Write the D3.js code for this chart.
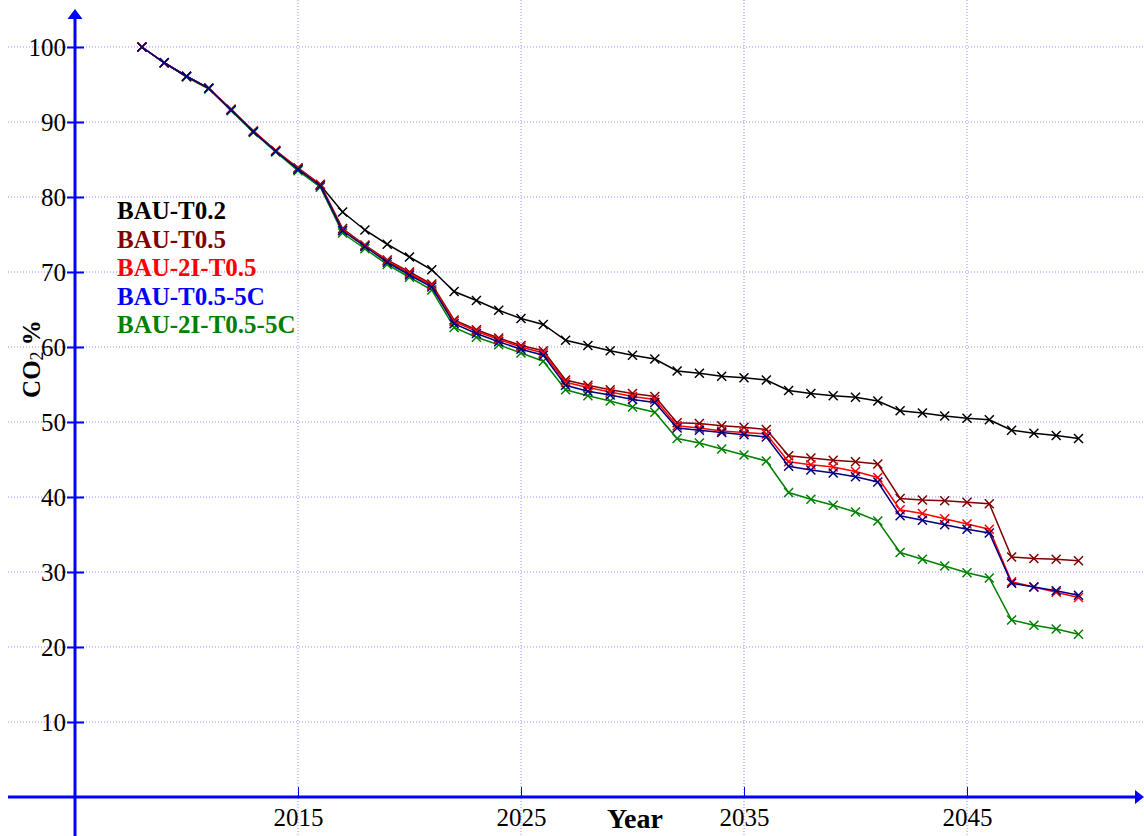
<!DOCTYPE html>
<html>
<head>
<meta charset="utf-8">
<script src="https://cdn.jsdelivr.net/npm/d3@7"></script>
<style>
  body { margin: 0; background: #fff; }
  svg { display: block; font-family: "Liberation Serif", "Times New Roman", serif; }
</style>
</head>
<body>
<div id="chart"></div>
<script>
// years 2008..2050
const years = d3.range(2008, 2051);
const yearTicks = [2015, 2025, 2035, 2045];
const pctTicks = [10, 20, 30, 40, 50, 60, 70, 80, 90, 100];

const bauT02 = [100, 97.9, 96.1, 94.5, 91.6, 88.7, 86.1, 83.7, 81.6,
  78.0, 75.6, 73.7, 72.0, 70.3,
  67.4, 66.2, 64.9, 63.8, 63.0,
  60.9, 60.2, 59.5, 58.9, 58.4,
  56.8, 56.5, 56.1, 55.9, 55.6,
  54.2, 53.8, 53.5, 53.3, 52.8,
  51.5, 51.2, 50.8, 50.5, 50.3,
  48.9, 48.5, 48.2, 47.8];

const bauT05 = [100, 97.9, 96.1, 94.5, 91.7, 88.8, 86.2, 83.9, 81.7,
  75.8, 73.6, 71.6, 70.0, 68.4,
  63.6, 62.3, 61.2, 60.2, 59.5,
  55.6, 54.9, 54.3, 53.8, 53.4,
  49.9, 49.8, 49.5, 49.3, 49.0,
  45.5, 45.2, 44.9, 44.7, 44.4,
  39.8, 39.6, 39.5, 39.3, 39.1,
  32.0, 31.8, 31.7, 31.5];

const bau2IT05 = [100, 97.9, 96.1, 94.5, 91.7, 88.8, 86.2, 83.8, 81.6,
  75.6, 73.5, 71.5, 69.8, 68.2,
  63.4, 62.1, 61.0, 60.0, 59.2,
  55.3, 54.6, 54.0, 53.4, 53.0,
  49.5, 49.2, 48.8, 48.6, 48.4,
  44.7, 44.3, 44.0, 43.4, 42.6,
  38.3, 37.8, 37.1, 36.4, 35.7,
  28.7, 28.0, 27.3, 26.6];

const bauT055C = [100, 97.9, 96.1, 94.5, 91.6, 88.7, 86.1, 83.7, 81.5,
  75.5, 73.4, 71.3, 69.6, 68.0,
  63.1, 61.8, 60.7, 59.7, 58.9,
  54.9, 54.1, 53.6, 53.0, 52.6,
  49.2, 48.9, 48.6, 48.3, 48.0,
  44.1, 43.6, 43.2, 42.7, 42.0,
  37.5, 36.9, 36.3, 35.7, 35.2,
  28.5, 28.0, 27.5, 26.9];

const bau2IT055C = [100, 97.9, 96.0, 94.4, 91.5, 88.6, 86.0, 83.5, 81.3,
  75.2, 73.1, 71.0, 69.3, 67.6,
  62.6, 61.3, 60.3, 59.2, 58.1,
  54.3, 53.5, 52.8, 52.0, 51.3,
  47.8, 47.2, 46.4, 45.6, 44.8,
  40.6, 39.7, 38.9, 38.0, 36.8,
  32.6, 31.7, 30.8, 29.9, 29.2,
  23.6, 22.9, 22.4, 21.7];

const seriesNames = ["BAU-T0.2", "BAU-T0.5", "BAU-2I-T0.5", "BAU-T0.5-5C", "BAU-2I-T0.5-5C"];
const seriesValues = [bauT02, bauT05, bau2IT05, bauT055C, bau2IT055C];
const lineColors = ["#000000", "#800000", "#ff0000", "#000080", "#008000"];
const legendColors = ["#000000", "#800000", "#ff0000", "#0000ff", "#008000"];
// drawing order (blue ends up on top)
const drawOrder = [0, 4, 1, 2, 3];

let width = 1144;
let height = 836;
const serif = "'Liberation Serif', 'Times New Roman', serif";

let svg = d3.select("#chart")
  .append("svg")
  .attr("width", width)
  .attr("height", height);

let x = d3.scaleLinear().domain([2005, 2045]).range([75, 967]);
let y = d3.scaleLinear().domain([0, 100]).range([797, 47]);

const gridColor = "#8f8fff";

// grid
svg.append("g").selectAll("line")
  .data(pctTicks)
  .enter()
  .append("line")
  .attr("x1", 8).attr("x2", width)
  .attr("y1", d => y(d)).attr("y2", d => y(d))
  .attr("stroke", gridColor)
  .attr("stroke-width", 1)
  .attr("stroke-dasharray", "1,2");

svg.append("g").selectAll("line")
  .data(yearTicks)
  .enter()
  .append("line")
  .attr("x1", d => x(d)).attr("x2", d => x(d))
  .attr("y1", 0).attr("y2", height)
  .attr("stroke", gridColor)
  .attr("stroke-width", 1)
  .attr("stroke-dasharray", "1,2");

// axes lines with arrows
const axisBlue = "#0000ff";
svg.append("line")
  .attr("x1", x(2005)).attr("x2", x(2005))
  .attr("y1", height).attr("y2", 16)
  .attr("stroke", axisBlue).attr("stroke-width", 3);
svg.append("path")
  .attr("d", `M${x(2005)},9 L${x(2005) - 7.5},19 L${x(2005) + 7.5},19 Z`)
  .attr("fill", axisBlue);

svg.append("line")
  .attr("x1", 8).attr("x2", 1138)
  .attr("y1", y(0)).attr("y2", y(0))
  .attr("stroke", axisBlue).attr("stroke-width", 3);
svg.append("path")
  .attr("d", `M1144,${y(0)} L1135,${y(0) - 7} L1135,${y(0) + 7} Z`)
  .attr("fill", axisBlue);

// y axis ticks
let yAxis = d3.axisLeft(y)
  .tickValues(pctTicks)
  .tickSize(8)
  .tickPadding(1);

let yg = svg.append("g")
  .attr("transform", `translate(${x(2005)},0)`)
  .call(yAxis);
yg.select(".domain").remove();
yg.selectAll(".tick line").attr("stroke", axisBlue).attr("stroke-width", 2);
yg.selectAll(".tick").append("line")
  .attr("x1", 0).attr("x2", 9)
  .attr("stroke", axisBlue).attr("stroke-width", 2);
yg.selectAll(".tick text")
  .attr("fill", "#000")
  .style("font-size", "25px")
  .style("font-family", serif);

// x axis ticks
let xAxis = d3.axisBottom(x)
  .tickValues(yearTicks)
  .tickFormat(d3.format("d"))
  .tickSize(-10)
  .tickPadding(11);

let xg = svg.append("g")
  .attr("transform", `translate(0,${y(0)})`)
  .call(xAxis);
xg.select(".domain").remove();
xg.selectAll(".tick line").attr("stroke", axisBlue).attr("stroke-width", 1);
xg.selectAll(".tick text")
  .attr("fill", "#000")
  .style("font-size", "25px")
  .style("font-family", serif);

// axis titles
svg.append("text")
  .attr("x", 635).attr("y", 828)
  .attr("text-anchor", "middle")
  .style("font-size", "28px")
  .style("font-weight", "bold")
  .text("Year");

let yt = svg.append("text")
  .attr("transform", "translate(40,359) rotate(-90)")
  .attr("text-anchor", "middle")
  .style("font-size", "25px")
  .style("font-weight", "bold");
yt.append("tspan").text("CO");
yt.append("tspan").attr("dy", 3).style("font-size", "18px").style("font-weight", "normal").text("2");
yt.append("tspan").attr("dy", -3).text(" %");

// lines
let line = d3.line()
  .x((d, i) => x(years[i]))
  .y(d => y(d));

const cross = 4.5;
drawOrder.forEach(k => {
  let g = svg.append("g");
  g.append("path")
    .datum(seriesValues[k])
    .attr("fill", "none")
    .attr("stroke", lineColors[k])
    .attr("stroke-width", 1.5)
    .attr("d", line);
  g.selectAll("path.mark")
    .data(seriesValues[k])
    .enter()
    .append("path")
    .attr("class", "mark")
    .attr("d", (d, i) => {
      const cx = x(years[i]), cy = y(d);
      return `M${cx - cross},${cy - cross}L${cx + cross},${cy + cross}M${cx - cross},${cy + cross}L${cx + cross},${cy - cross}`;
    })
    .attr("stroke", lineColors[k])
    .attr("stroke-width", 1.5)
    .attr("fill", "none");
});

// legend
svg.append("g").selectAll("text")
  .data(seriesNames)
  .enter()
  .append("text")
  .attr("x", 117)
  .attr("y", (d, i) => 219 + i * 28.6)
  .attr("fill", (d, i) => legendColors[i])
  .style("font-size", "25px")
  .style("font-weight", "bold")
  .text(d => d);
</script>
</body>
</html>
